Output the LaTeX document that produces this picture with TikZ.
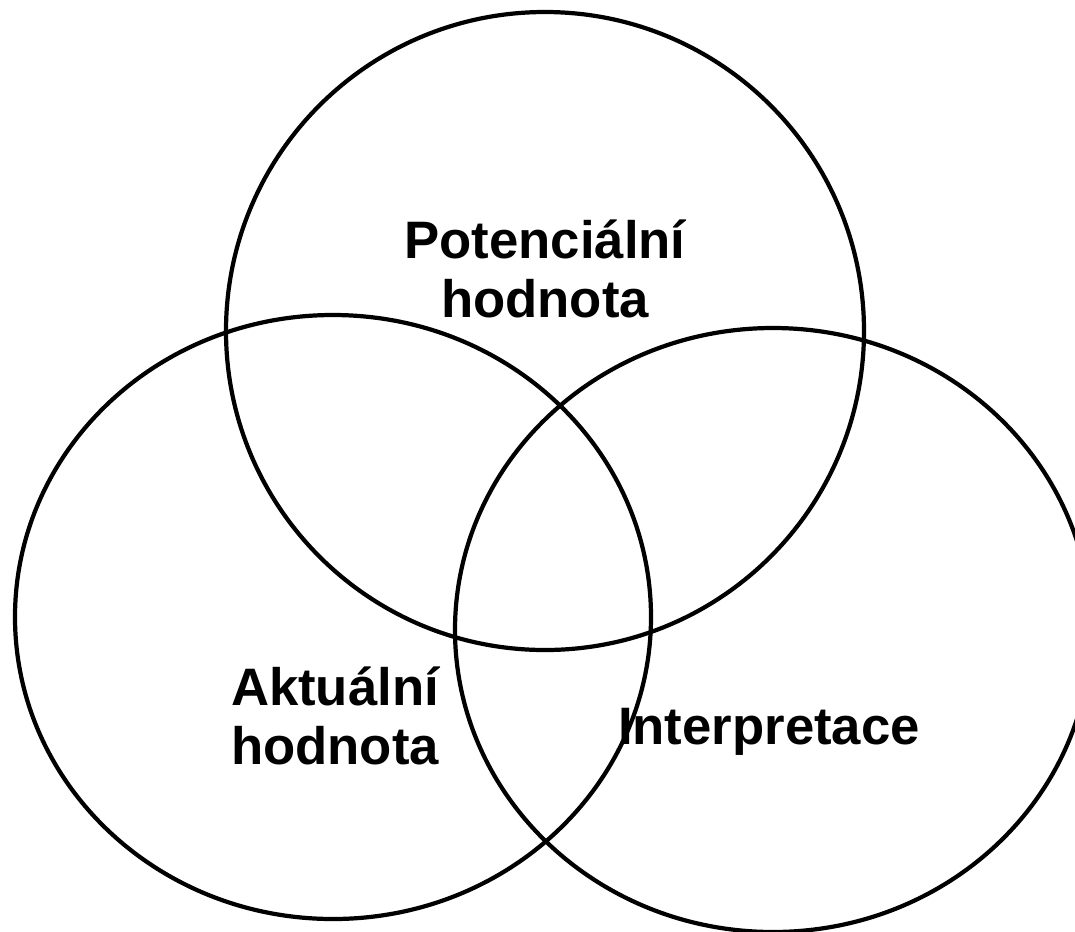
\documentclass[tikz,border=0pt]{standalone}
\usepackage{fontspec}
\setmainfont{Liberation Sans}
\begin{document}
\begin{tikzpicture}[x=0.02cm, y=-0.02cm, line width=2.4pt,
  vennlabel/.style={font=\fontsize{30}{34}\selectfont\bfseries, align=center, inner sep=0pt}]
\useasboundingbox (0,0) rectangle (1075,931);
% Top circle
\draw (545,331) circle (319);
% Left circle
\draw (333,617) ellipse [x radius=318, y radius=302];
% Right circle
\draw (773,630) ellipse [x radius=318, y radius=302];
% Labels
\node[vennlabel] (potential) at (545,269) {Potenciální\\hodnota};
\node[vennlabel] (actual) at (335,716) {Aktuální\\hodnota};
\node[vennlabel] (interp) at (769,732) {Interpretace};
\end{tikzpicture}
\end{document}
